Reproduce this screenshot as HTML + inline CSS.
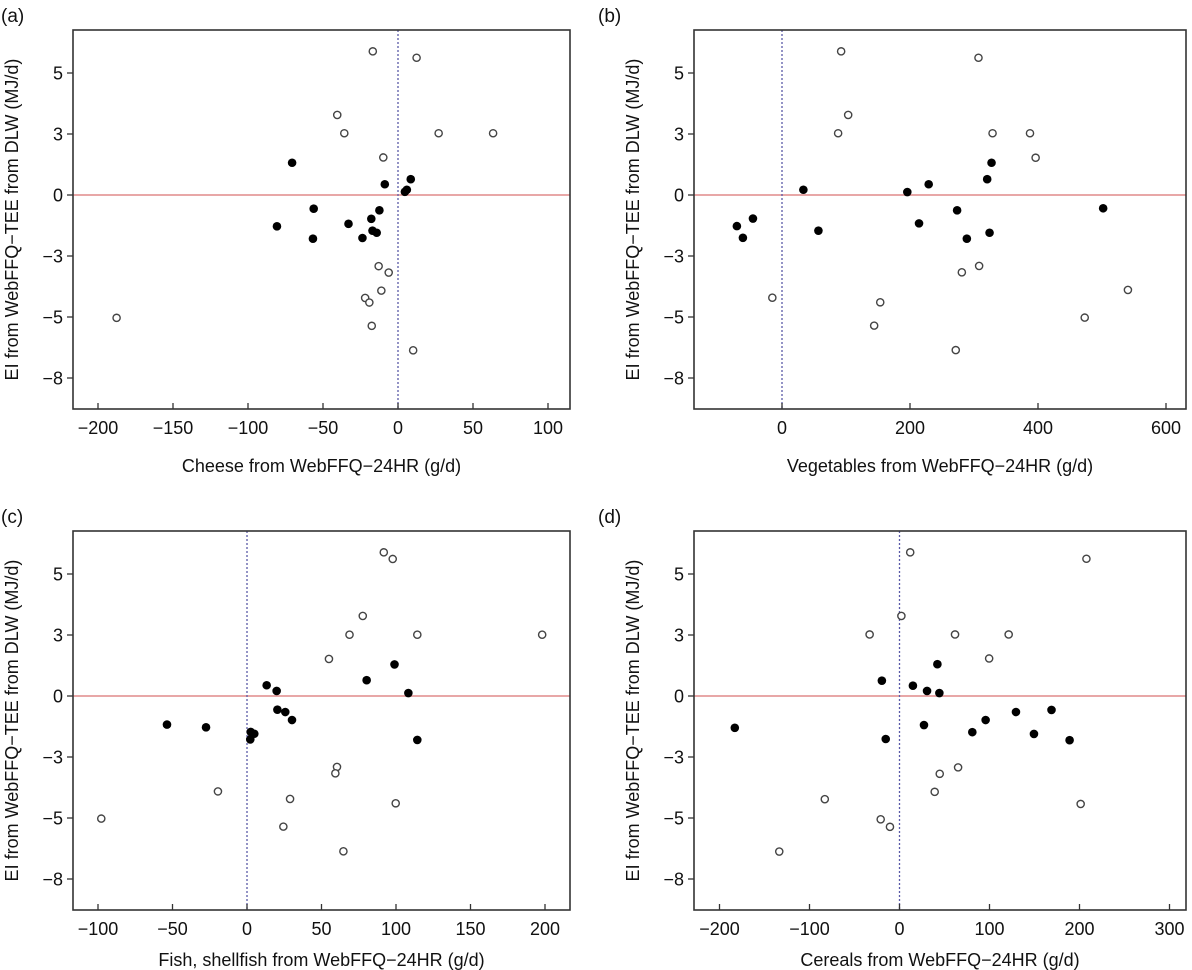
<!DOCTYPE html>
<html><head><meta charset="utf-8"><style>
html,body{margin:0;padding:0;background:#fff;}
svg{display:block;font-family:"Liberation Sans",Arial,sans-serif;}
</style></head><body>
<svg id="fig" width="1192" height="970" viewBox="0 0 1192 970" xmlns="http://www.w3.org/2000/svg"></svg>
<script>
// shared y data (EI − TEE, MJ/d), y ticks at equal spacing
const yTickValues = [16/3, 8/3, 0, -8/3, -16/3, -8];
const yTickLabels = ["5", "3", "0", "\u22123", "\u22125", "\u22128"];
const openY = [6.28, 6.0, 3.5, 2.7, 2.7, 2.7, 1.64, -3.11, -3.39, -4.18, -4.5, -4.7, -5.72, -5.37, -6.79];
const filledY = [1.41, 0.69, 0.47, 0.23, 0.14, -0.6, -0.67, -1.04, -1.26, -1.37, -1.56, -1.65, -1.88, -1.91];

// panel (a) cheese
const aOpenX = [-16.8, 12.4, -40.5, -35.8, 27.1, 63.4, -9.8, -12.9, -6.2, -11.1, -21.9, -19.1, -17.5, -187.6, 10.1];
const aFilledX = [-70.6, 8.5, -8.8, 5.9, 4.6, -56.2, -12.4, -17.8, -33, -80.7, -17, -14.2, -23.7, -56.7];
const aTicks = [-200, -150, -100, -50, 0, 50, 100];
// panel (b) vegetables
const bOpenX = [92.4, 307, 103.4, 87.7, 329, 387.5, 396.3, 308, 281, 153.5, -15.1, 540.5, 473, 144, 271.5];
const bOpenY = [6.28, 6.0, 3.5, 2.7, 2.7, 2.7, 1.63, -3.10, -3.38, -4.69, -4.49, -4.15, -5.36, -5.71, -6.78];
const bFilledX = [327.4, 320.6, 229.2, 33.4, 195.8, 501.8, 273.6, -45.4, 214.1, -70.5, 56.9, 324.3, -61.1, 288.8];
const bFilledY = [1.41, 0.69, 0.47, 0.23, 0.13, -0.58, -0.67, -1.03, -1.24, -1.36, -1.56, -1.65, -1.87, -1.91];
const bTicks = [0, 200, 400, 600];
// panel (c) fish
const cOpenX = [91.8, 97.8, 77.7, 68.8, 114.3, 198.1, 55, 60.4, 59.3, 99.8, -19.5, 28.9, -97.8, 24.4, 64.7];
const cOpenY = [6.28, 5.99, 3.5, 2.68, 2.68, 2.68, 1.62, -3.10, -3.38, -4.69, -4.17, -4.5, -5.36, -5.71, -6.79];
const cFilledX = [99, 80.3, 13.2, 19.9, 108.3, 20.4, 25.7, 30.2, -27.5, -53.7, 2.5, 4.9, 2.2, 114.3];
const cFilledY = [1.38, 0.69, 0.47, 0.22, 0.13, -0.6, -0.7, -1.05, -1.37, -1.25, -1.57, -1.65, -1.9, -1.92];
const cTicks = [-100, -50, 0, 50, 100, 150, 200];
// panel (d) cereals
const dOpenX = [11.9, 207.7, 2.1, -33.2, 61.7, 121.3, 99.6, 65.1, 44.7, 39.1, -83, 201.3, -20.9, -10.6, -133.6];
const dOpenY = [6.28, 6.0, 3.5, 2.69, 2.69, 2.69, 1.64, -3.12, -3.4, -4.19, -4.51, -4.72, -5.39, -5.72, -6.8];
const dFilledX = [42.1, -19.6, 14.9, 30.6, 44.3, 168.9, 129.4, 95.7, 27.2, -183, 80.9, 149.4, -15.3, 189];
const dFilledY = [1.39, 0.67, 0.45, 0.22, 0.13, -0.61, -0.7, -1.05, -1.27, -1.39, -1.58, -1.66, -1.88, -1.93];
const dTicks = [-200, -100, 0, 100, 200, 300];

const NS = "http://www.w3.org/2000/svg";
const svg = document.getElementById("fig");
function mk(tag, attrs, parent, text) {
  const e = document.createElementNS(NS, tag);
  for (const k in attrs) e.setAttribute(k, attrs[k]);
  if (text !== undefined) e.textContent = text;
  (parent || svg).appendChild(e);
  return e;
}

function panel(cfg) {
  const g = mk("g", {});
  
  
  const L = cfg.left, R = cfg.right, T = cfg.top, B = cfg.top + 379;
  const y0 = cfg.top + 165, ppu = 22.875;
  const ys = v => y0 - v * ppu;
  const xs = v => cfg.x0 + v * cfg.xppu;
  const lab = mk("text", {x: cfg.labX, y: cfg.top - 8, "font-size": 19, fill: "#111"}, g, "(" + cfg.id + ")");
  
  
  const hl = mk("line", {x1: L, x2: R, y1: ys(0), y2: ys(0), stroke: "#e08a8a", "stroke-width": 1.6}, g);
  
  
  const vl = mk("line", {x1: xs(0), x2: xs(0), y1: T, y2: B, stroke: "#5a5aa8", "stroke-width": 1.3, "stroke-dasharray": "2,2"}, g);
  
  
  const fr = mk("rect", {x: L, y: T, width: R - L, height: B - T, fill: "none", stroke: "#333", "stroke-width": 1.6}, g);
  
  
  yTickValues.forEach((v, i) => {
    const t = mk("line", {x1: L - 6, x2: L, y1: ys(v), y2: ys(v), stroke: "#333", "stroke-width": 1.3}, g);
    
    
    const tl = mk("text", {x: L - 10, y: ys(v) + 6.5, "font-size": 18, "text-anchor": "end", fill: "#111"}, g, yTickLabels[i]);
    
    
  });
  cfg.ticks.forEach(v => {
    const t = mk("line", {x1: xs(v), x2: xs(v), y1: B, y2: B - 6, stroke: "#333", "stroke-width": 1.3}, g);
    
    
    const s = v < 0 ? "\u2212" + (-v) : String(v);
    const tl = mk("text", {x: xs(v), y: B + 25, "font-size": 18, "text-anchor": "middle", fill: "#111"}, g, s);
    
    
  });
  const xt = mk("text", {x: (L + R) / 2, y: B + cfg.titleOff, "font-size": 18, "text-anchor": "middle", fill: "#111"}, g, cfg.xtitle);
  
  
  const yc = (T + B) / 2, yx = L - 55;
  const yt = mk("text", {x: yx, y: yc, "font-size": 18, "text-anchor": "middle", fill: "#111", transform: "rotate(-90 " + yx + " " + yc + ")"}, g, "EI from WebFFQ\u2212TEE from DLW (MJ/d)");
  
  
  cfg.ox.forEach((v, i) => {
    const c = mk("circle", {cx: xs(v), cy: ys(cfg.oy[i]), r: 3.6, fill: "#fff", stroke: "#444", "stroke-width": 1.4}, g);
    
    
  });
  cfg.fx.forEach((v, i) => {
    const c = mk("circle", {cx: xs(v), cy: ys(cfg.fy[i]), r: 4.3, fill: "#000"}, g);
    
    
  });
}

panel({id: "a", left: 73, right: 570, top: 30, x0: 398, xppu: 1.5, labX: 1, ticks: aTicks, titleOff: 63,
  xtitle: "Cheese from WebFFQ\u221224HR (g/d)", ox: aOpenX, oy: openY, fx: aFilledX, fy: filledY});
panel({id: "b", left: 694, right: 1186, top: 30, x0: 782, xppu: 0.64, labX: 598, ticks: bTicks, titleOff: 63,
  xtitle: "Vegetables from WebFFQ\u221224HR (g/d)", ox: bOpenX, oy: bOpenY, fx: bFilledX, fy: bFilledY});
panel({id: "c", left: 73, right: 570, top: 531, x0: 247, xppu: 1.49, labX: 1, ticks: cTicks, titleOff: 56,
  xtitle: "Fish, shellfish from WebFFQ\u221224HR (g/d)", ox: cOpenX, oy: cOpenY, fx: cFilledX, fy: cFilledY});
panel({id: "d", left: 694, right: 1186, top: 531, x0: 899.5, xppu: 0.9, labX: 598, ticks: dTicks, titleOff: 56,
  xtitle: "Cereals from WebFFQ\u221224HR (g/d)", ox: dOpenX, oy: dOpenY, fx: dFilledX, fy: dFilledY});
</script>
</body></html>
